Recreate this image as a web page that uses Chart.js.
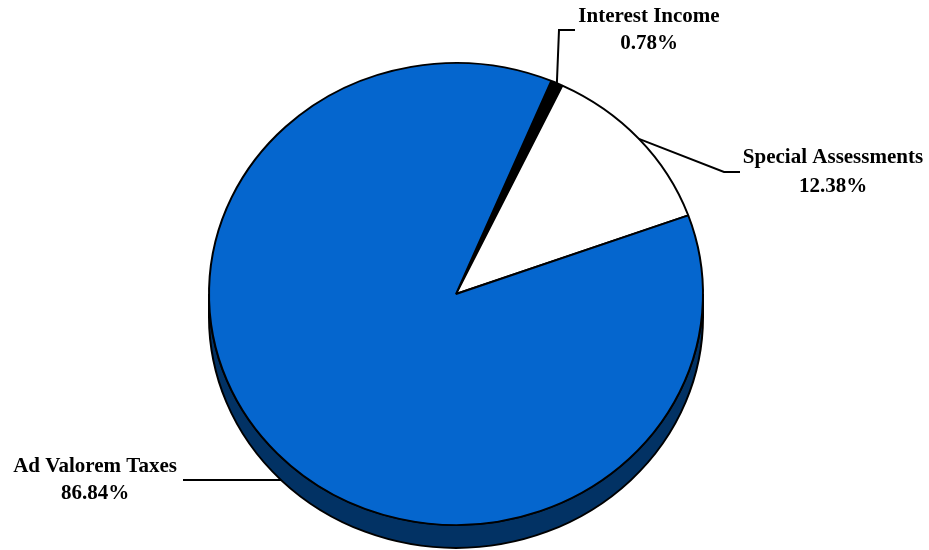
<!DOCTYPE html>
<html>
<head>
<meta charset="utf-8">
<script src="https://cdn.jsdelivr.net/npm/chart.js@4/dist/chart.umd.min.js"></script>
<style>
  html, body { margin: 0; padding: 0; background: #ffffff; }
  #wrap { width: 929px; height: 550px; position: relative; }
</style>
</head>
<body>
<div id="wrap"><canvas id="c"></canvas></div>
<script>
// ---- data ----
const categories = ['Interest Income', 'Special Assessments', 'Ad Valorem Taxes'];
const shares = [0.78, 12.38, 86.84];
const shareLabels = ['0.78%', '12.38%', '86.84%'];
const sliceColors = ['#000000', '#FFFFFF', '#0566CE'];

// ---- style constants ----
const TILT = 0.935;        // vertical squash of the pie
const DEPTH = 23;          // screen px thickness of pie
const SIDE_COLOR = '#023264';
const FONT = 'bold 21px "Liberation Serif", "Times New Roman", serif';

// label layout (style): text centre x, line centres, elbow polyline, anchor mode
const labelLayout = [
  { x: 649, y1: 17, y2: 44, elbow: [[575, 30], [559, 30]], anchor: 'top' },
  { x: 833, y1: 158, y2: 187, elbow: [[740, 172], [724, 172]], anchor: 'top' },
  { x: 95, y1: 467, y2: 494, elbow: [[183, 480]], anchor: 'side' }
];

const pie3d = {
  id: 'pie3d',
  beforeDatasetsDraw(chart) {
    const arc = chart.getDatasetMeta(0).data[0];
    if (!arc) return;
    const { x: cx, y: cy, outerRadius: r } = arc.getProps(['x', 'y', 'outerRadius'], true);
    const ctx = chart.ctx;
    ctx.save();
    ctx.translate(cx, cy);
    ctx.scale(1, TILT);
    ctx.translate(-cx, -cy);
    const d = DEPTH / TILT;
    ctx.beginPath();
    ctx.moveTo(cx + r, cy);
    ctx.arc(cx, cy + d, r, 0, Math.PI, false);
    ctx.lineTo(cx - r, cy);
    ctx.arc(cx, cy, r, Math.PI, 0, true);
    ctx.closePath();
    ctx.fillStyle = SIDE_COLOR;
    ctx.fill();
    ctx.lineWidth = 2;
    ctx.strokeStyle = '#000000';
    ctx.stroke();
  },
  afterDatasetsDraw(chart) {
    chart.ctx.restore();
  },
  afterDraw(chart) {
    const meta = chart.getDatasetMeta(0);
    const ctx = chart.ctx;
    ctx.save();
    ctx.font = FONT;
    ctx.fillStyle = '#000000';
    ctx.textAlign = 'center';
    ctx.textBaseline = 'middle';
    meta.data.forEach((el, i) => {
      const p = el.getProps(['x', 'y', 'startAngle', 'endAngle', 'outerRadius'], true);
      const lay = labelLayout[i];
      const mid = (p.startAngle + p.endAngle) / 2;
      let ax, ay;
      const last = lay.elbow[lay.elbow.length - 1];
      if (lay.anchor === 'side') {
        ay = last[1];
        const by = p.y + DEPTH;
        const t = (ay - by) / (p.outerRadius * TILT);
        ax = p.x - p.outerRadius * Math.sqrt(Math.max(0, 1 - t * t));
      } else {
        ax = p.x + p.outerRadius * Math.cos(mid);
        ay = p.y + p.outerRadius * TILT * Math.sin(mid);
      }
      ctx.beginPath();
      ctx.moveTo(lay.elbow[0][0], lay.elbow[0][1]);
      for (let k = 1; k < lay.elbow.length; k++) ctx.lineTo(lay.elbow[k][0], lay.elbow[k][1]);
      ctx.lineTo(ax, ay);
      ctx.lineWidth = 2;
      ctx.strokeStyle = '#000000';
      ctx.stroke();
      ctx.fillText(categories[i], lay.x, lay.y1);
      ctx.fillText(shareLabels[i], lay.x, lay.y2);
    });
    ctx.restore();
  }
};

new Chart(document.getElementById('c'), {
  type: 'pie',
  data: {
    labels: categories,
    datasets: [{
      data: shares,
      backgroundColor: sliceColors,
      borderColor: '#000000',
      borderWidth: 2,
      clip: false
    }]
  },
  options: {
    responsive: true,
    maintainAspectRatio: false,
    animation: false,
    rotation: 22.7,
    events: [],
    layout: { padding: { top: 46, bottom: 8, left: 156, right: 173 } },
    plugins: {
      legend: { display: false },
      tooltip: { enabled: false }
    }
  },
  plugins: [pie3d]
});
</script>
</body>
</html>
